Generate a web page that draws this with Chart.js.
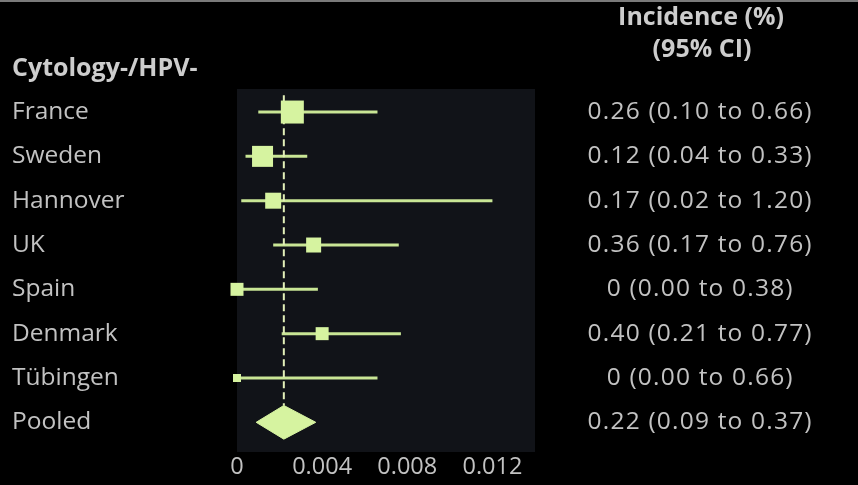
<!DOCTYPE html>
<html>
<head>
<meta charset="utf-8">
<script src="https://cdn.jsdelivr.net/npm/chart.js@4.4.1/dist/chart.umd.min.js"></script>
<style>
  html, body { margin: 0; padding: 0; background: #000; }
  canvas { display: block; }
</style>
</head>
<body>
<canvas id="forest" width="858" height="485"></canvas>
<script>
// Incidence (%) per study, with 95% CI
const studies = ['France', 'Sweden', 'Hannover', 'UK', 'Spain', 'Denmark', 'Tübingen', 'Pooled'];
const incidence = [0.26, 0.12, 0.17, 0.36, 0, 0.40, 0, 0.22];
const ciLow = [0.10, 0.04, 0.02, 0.17, 0.00, 0.21, 0.00, 0.09];
const ciHigh = [0.66, 0.33, 1.20, 0.76, 0.38, 0.77, 0.66, 0.37];
const xTicks = [0, 0.004, 0.008, 0.012];
const xTickLabels = ['0', '0.004', '0.008', '0.012'];

// styling
const green = '#d6f3a0';
const lineGreen = '#c9e695';
const textGray = '#c2c2c2';
const font = "'Open Sans', 'Noto Sans', sans-serif";
const squareSide = [23, 21, 16, 15, 13, 13, 8];
const diamondHalf = 0.38;

const pooled = studies.length - 1;
const fmt = v => (v === 0 ? '0' : v.toFixed(2));
const rightLabels = studies.map((s, i) => `${fmt(incidence[i])} (${ciLow[i].toFixed(2)} to ${ciHigh[i].toFixed(2)})`);

// horizontal CI segments, one per study
const ciSets = studies.slice(0, pooled).map((s, i) => ({
    data: [{ x: ciLow[i] / 100, y: i }, { x: ciHigh[i] / 100, y: i }],
    showLine: true,
    borderColor: lineGreen,
    borderWidth: 3,
    pointRadius: 0,
    order: 3
}));

const squares = {
    data: studies.slice(0, pooled).map((s, i) => ({ x: incidence[i] / 100, y: i })),
    pointStyle: 'rect',
    pointRadius: squareSide.map(s => s / Math.SQRT2),
    backgroundColor: green,
    borderWidth: 0,
    clip: false,
    order: 1
};

const pooledLine = {
    data: [
        { x: incidence[pooled] / 100, y: -0.38 },
        { x: incidence[pooled] / 100, y: pooled - diamondHalf }
    ],
    showLine: true,
    borderColor: '#e2efb8',
    borderWidth: 2,
    borderDash: [7, 4],
    pointRadius: 0,
    order: 2
};

const diamond = {
    data: [
        { x: ciLow[pooled] / 100, y: pooled },
        { x: incidence[pooled] / 100, y: pooled - diamondHalf },
        { x: ciHigh[pooled] / 100, y: pooled },
        { x: incidence[pooled] / 100, y: pooled + diamondHalf },
        { x: ciLow[pooled] / 100, y: pooled }
    ],
    showLine: true,
    fill: 'shape',
    backgroundColor: green,
    borderColor: green,
    borderWidth: 1,
    pointRadius: 0,
    tension: 0,
    order: 1
};

const plotBackground = {
    id: 'plotBackground',
    beforeDraw(chart) {
        const { ctx, chartArea: a } = chart;
        ctx.save();
        ctx.fillStyle = '#7a7a7a';
        ctx.fillRect(0, 0, chart.width, 2);
        ctx.fillStyle = '#111318';
        ctx.fillRect(a.left, a.top, a.right - a.left, a.bottom - a.top);
        ctx.restore();
    },
    // right-hand column labels (ticks.z = 1) come after this, spaced a little wider
    afterDatasetsDraw(chart) {
        chart.ctx.letterSpacing = '1.2px';
    }
};

const headers = {
    id: 'headers',
    afterDraw(chart) {
        const { ctx } = chart;
        ctx.letterSpacing = '0px';
        ctx.save();
        ctx.fillStyle = '#cdcdcd';
        ctx.font = `bold 25px ${font}`;
        ctx.textBaseline = 'middle';
        ctx.textAlign = 'left';
        ctx.fillText('Cytology-/HPV-', 12, 69);
        ctx.textAlign = 'center';
        ctx.fillText('Incidence (%)', 701, 18);
        ctx.fillText('(95% CI)', 702, 50);
        ctx.restore();
    }
};

// row axes: one tick per study, no label overhang padding
const rowScale = (position, labels, width, ticks) => ({
    type: 'linear',
    position: position,
    reverse: true,
    min: -0.52,
    max: 7.67,
    grid: { display: false, drawTicks: false },
    border: { display: false },
    afterBuildTicks: s => { s.ticks = labels.map((l, i) => ({ value: i })); },
    afterFit: s => {
        s.width = width;
        s.paddingTop = 0;
        s.paddingBottom = 0;
    },
    ticks: Object.assign({
        color: textGray,
        font: { family: font, size: 24.5 },
        callback: v => labels[v]
    }, ticks)
});

new Chart(document.getElementById('forest'), {
    type: 'scatter',
    data: { datasets: [...ciSets, pooledLine, squares, diamond] },
    options: {
        responsive: false,
        animation: false,
        events: [],
        layout: { padding: { left: 12, top: 89, right: 0, bottom: 0 } },
        plugins: { legend: { display: false }, tooltip: { enabled: false } },
        scales: {
            x: {
                type: 'linear',
                min: 0,
                max: 0.014,
                grid: { display: false, drawTicks: false },
                border: { display: false },
                afterBuildTicks: s => { s.ticks = xTicks.map(v => ({ value: v })); },
                afterFit: s => {
                    s.height = 33;
                    s.paddingLeft = 0;
                    s.paddingRight = 0;
                },
                ticks: {
                    color: textGray,
                    maxRotation: 0,
                    padding: 1,
                    font: { family: font, size: 23.5 },
                    callback: v => xTickLabels[xTicks.indexOf(v)]
                }
            },
            y: rowScale('left', studies, 225, { crossAlign: 'far' }),
            y2: rowScale('right', rightLabels, 323, { crossAlign: 'center', padding: 64, z: 1 })
        }
    },
    plugins: [plotBackground, headers]
});
</script>
</body>
</html>
